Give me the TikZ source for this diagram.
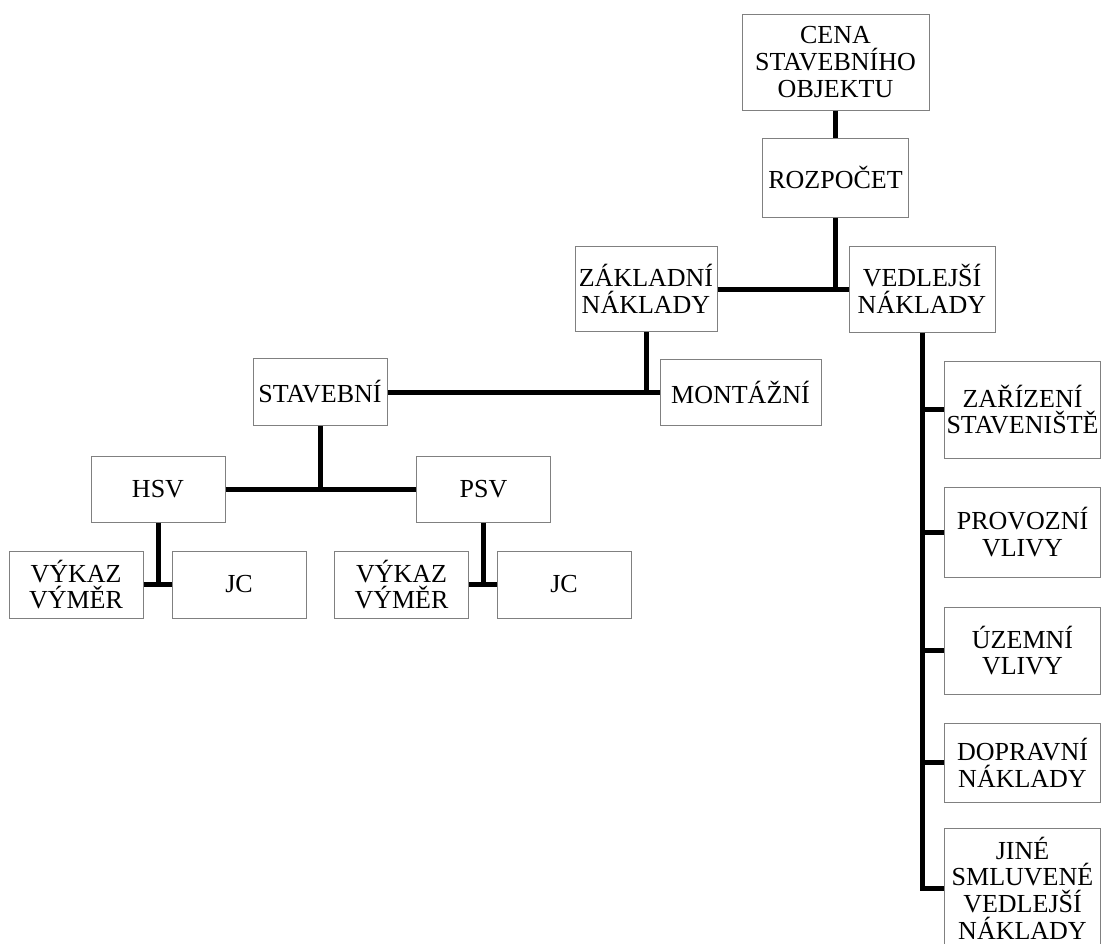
\documentclass[tikz,border=0pt]{standalone}
\usepackage{fontspec}
\setmainfont{Liberation Serif}
\tikzset{
    box/.style={draw=black!50, line width=0.5pt, align=center, inner sep=1pt,
        minimum width=67pt, minimum height=33.5pt},
    sidebox/.style={box, anchor=west, text width=78pt, inner xsep=0pt},
    link/.style={line width=2.5pt},
}
\begin{document}
\begin{tikzpicture}[x=0.5pt, y=-0.5pt, font=\fontsize{13}{13.35}\selectfont]
    \useasboundingbox (0,0) rectangle (1101,943);

    \node[box, minimum width=93.5pt, minimum height=48pt] (cena) at (835.5,62) {CENA\\STAVEBNÍHO\\OBJEKTU};
    \node[box, minimum width=73pt, minimum height=39.5pt] (rozpocet) at (835.5,177.5) {ROZPOČET};

    \node[box, minimum width=71pt, minimum height=42.5pt] (zakladni) at (646,289) {ZÁKLADNÍ\\NÁKLADY};
    \node[box, minimum width=73pt, minimum height=43pt] (vedlejsi) at (922,289) {VEDLEJŠÍ\\NÁKLADY};

    \node[box] (stavebni) at (320,392) {STAVEBNÍ};
    \node[box, minimum width=80.5pt, minimum height=33pt] (montazni) at (740.5,392) {MONTÁŽNÍ};

    \node[box, minimum height=33pt] (hsv) at (158,489) {HSV};
    \node[box, minimum height=33pt] (psv) at (483.5,489) {PSV};

    \node[box] (vykaz1) at (76,584.5) {VÝKAZ\\VÝMĚR};
    \node[box] (jc1) at (239,584.5) {JC};
    \node[box] (vykaz2) at (401.5,584.5) {VÝKAZ\\VÝMĚR};
    \node[box] (jc2) at (564,584.5) {JC};

    \node[sidebox, minimum height=48.5pt] (zarizeni) at (944,409.5) {ZAŘÍZENÍ\\STAVENIŠTĚ};
    \node[sidebox, minimum height=45pt] (provozni) at (944,532) {PROVOZNÍ\\VLIVY};
    \node[sidebox, minimum height=43.5pt] (uzemni) at (944,650.5) {ÚZEMNÍ\\VLIVY};
    \node[sidebox, minimum height=39.5pt] (dopravni) at (944,762.5) {DOPRAVNÍ\\NÁKLADY};
    \node[sidebox, minimum height=60pt] (jine) at (944,888) {JINÉ\\SMLUVENÉ\\VEDLEJŠÍ\\NÁKLADY};

    \draw[link] (cena) -- (rozpocet);
    \draw[link] (rozpocet.south) -- (rozpocet.south |- zakladni.east);
    \draw[link] (zakladni) -- (vedlejsi);

    \draw[link] (zakladni.south) -- (zakladni.south |- stavebni.east);
    \draw[link] (stavebni) -- (montazni);

    \draw[link] (stavebni.south) -- (stavebni.south |- hsv.east);
    \draw[link] (hsv) -- (psv);

    \draw[link] (hsv.south) -- (hsv.south |- vykaz1.east);
    \draw[link] (vykaz1) -- (jc1);
    \draw[link] (psv.south) -- (psv.south |- vykaz2.east);
    \draw[link] (vykaz2) -- (jc2);

    \draw[link] (vedlejsi.south) -- (vedlejsi.south |- jine.west) -- (jine.west);
    \foreach \n in {zarizeni,provozni,uzemni,dopravni}
        \draw[link] (vedlejsi.south |- \n.west) -- (\n.west);
\end{tikzpicture}
\end{document}
